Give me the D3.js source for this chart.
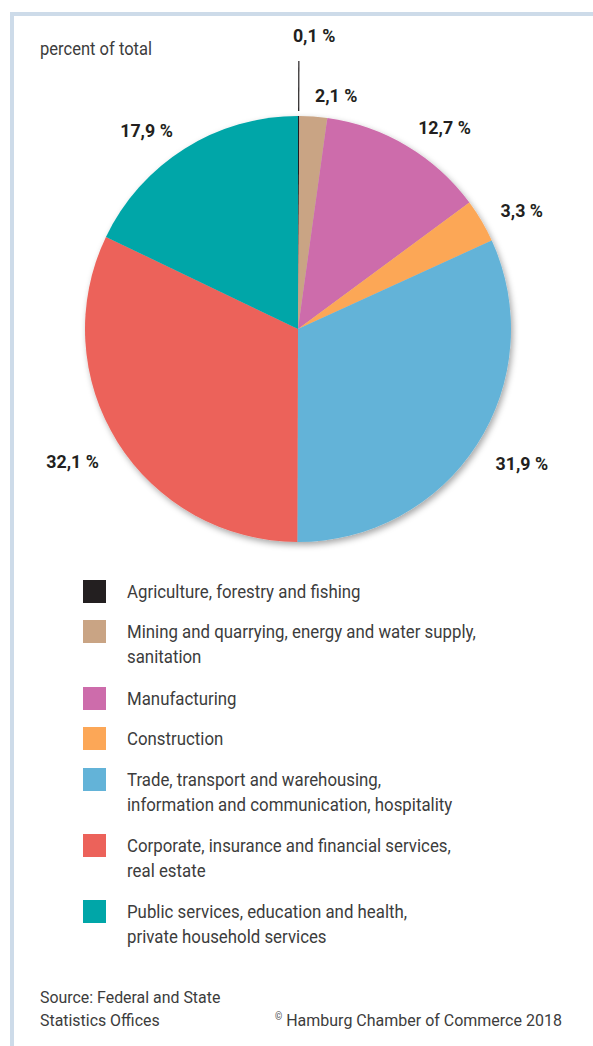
<!DOCTYPE html>
<html>
<head>
<meta charset="utf-8">
<script src="https://cdn.jsdelivr.net/npm/d3@7"></script>
<style>
  body { margin: 0; background: #fff; }
  svg { display: block; }
</style>
</head>
<body>
<svg id="chart"></svg>
<script>
// Data
const categories = [
  'Agriculture, forestry and fishing',
  'Mining and quarrying, energy and water supply,|sanitation',
  'Manufacturing',
  'Construction',
  'Trade, transport and warehousing,|information and communication, hospitality',
  'Corporate, insurance and financial services,|real estate',
  'Public services, education and health,|private household services'
];
const shares = [0.1, 2.1, 12.7, 3.3, 31.9, 32.1, 17.9];
const colors = ['#231f20', '#c9a484', '#cd6cab', '#fca757', '#63b3d8', '#ec625a', '#00a6a8'];

const W = 593, H = 1046;
const cx = 298, cy = 329, r = 213;
const lightFont = 'Roboto, "Noto Sans", sans-serif';

const svg = d3.select('#chart').attr('width', W).attr('height', H);

// Drop shadow for the pie
const defs = svg.append('defs');
defs.append('filter')
  .attr('id', 'pie-shadow')
  .attr('x', '-10%').attr('y', '-10%')
  .attr('width', '130%').attr('height', '130%')
  .append('feDropShadow')
  .attr('dx', 2).attr('dy', 3)
  .attr('stdDeviation', 3)
  .attr('flood-color', '#000')
  .attr('flood-opacity', 0.35);

// Frame lines (top and left)
svg.append('line')
  .attr('x1', 10).attr('y1', 14).attr('x2', W).attr('y2', 14)
  .attr('stroke', '#cddbe9').attr('stroke-width', 4);
svg.append('line')
  .attr('x1', 12).attr('y1', 12).attr('x2', 12).attr('y2', H)
  .attr('stroke', '#cddbe9').attr('stroke-width', 4);

// Helper for condensed text
function condText(g, x, y, str, size, weight, anchor) {
  const k = weight >= 700 ? 0.99 : 0.92;
  return g.append('text')
    .attr('transform', `translate(${x},${y}) scale(${k},1)`)
    .attr('font-family', lightFont)
    .attr('font-size', size)
    .attr('font-weight', weight || 400)
    .attr('fill', weight >= 700 ? '#231f20' : '#3c3c3c')
    .attr('text-anchor', anchor || 'start')
    .text(str);
}

condText(svg, 40, 55, 'percent of total', 18, 400);

// Pie
const pie = d3.pie().sort(null).value(d => d)(shares);
const arc = d3.arc().innerRadius(0).outerRadius(r);

const pieG = svg.append('g').attr('transform', `translate(${cx},${cy})`);
pieG.append('g')
  .attr('filter', 'url(#pie-shadow)')
  .selectAll('path')
  .data(pie)
  .enter()
  .append('path')
  .attr('d', arc)
  .attr('fill', (d, i) => colors[i]);

// Labels
const fmt = v => d3.format('.1f')(v).replace('.', ',') + ' %';
const labelR = 235;
pie.forEach((d, i) => {
  const a = (d.startAngle + d.endAngle) / 2;
  const sx = Math.sin(a), sy = -Math.cos(a);
  if (d.endAngle - d.startAngle < 0.02) {
    // tiny slice: leader line up to label
    pieG.append('line')
      .attr('x1', sx * (r + 5)).attr('y1', sy * (r + 5))
      .attr('x2', sx * (r + 55)).attr('y2', sy * (r + 55))
      .attr('stroke', '#231f20').attr('stroke-width', 1.2);
    condText(pieG, sx * (r + 74) - 6, sy * (r + 74), fmt(shares[i]), 18, 700);
  } else {
    const dy = sy > 0 ? 14 : 7;
    condText(pieG, sx * labelR, sy * labelR + dy, fmt(shares[i]), 18, 700, sx >= 0 ? 'start' : 'end');
  }
});

// Legend
const legend = svg.append('g');
const legY = d3.scaleOrdinal()
  .domain(d3.range(categories.length))
  .range([580, 620, 687, 727, 768, 834, 900]);
categories.forEach((c, i) => {
  const y = legY(i);
  legend.append('rect')
    .attr('x', 83).attr('y', y)
    .attr('width', 23).attr('height', 23)
    .attr('fill', colors[i]);
  c.split('|').forEach((line, j) => {
    condText(legend, 127, y + 18 + j * 25, line, 18.3, 400);
  });
});

// Footer
const foot = svg.append('g');
condText(foot, 40, 1003, 'Source: Federal and State', 17.3, 400);
condText(foot, 40, 1026, 'Statistics Offices', 17.3, 400);
const copy = condText(foot, 275, 1026, '', 17.4, 400);
copy.append('tspan').attr('font-size', 10).attr('dy', -6).text('©');
copy.append('tspan').attr('dy', 6).text(' Hamburg Chamber of Commerce 2018');
</script>
</body>
</html>
